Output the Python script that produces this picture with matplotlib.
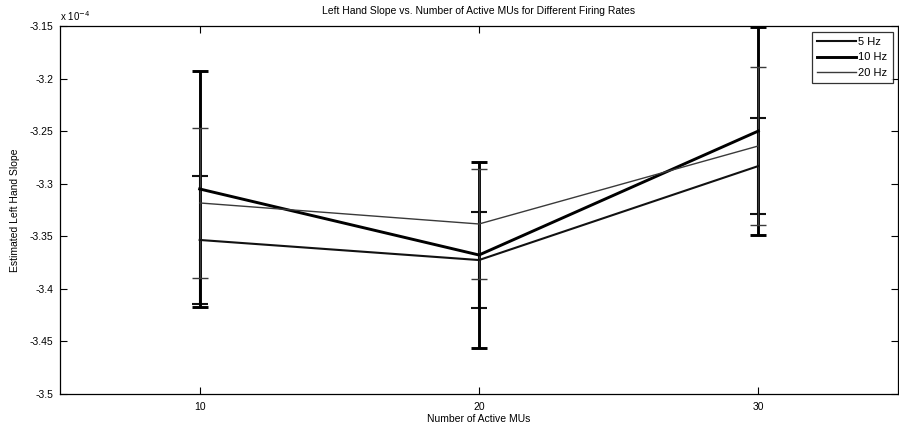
import matplotlib
matplotlib.use("Agg")
import matplotlib.pyplot as plt

plt.rcParams['font.family'] = ['Liberation Sans', 'DejaVu Sans']

# Number of active motor units
active_mus = [10, 20, 30]

# Estimated left hand slope (units of 1e-4) and standard deviations
slope_5hz = [-3.3535, -3.3726, -3.2832]
err_5hz = [0.0609, 0.0457, 0.0457]

slope_10hz = [-3.3050, -3.3678, -3.2499]
err_10hz = [0.1122, 0.0885, 0.0990]

slope_20hz = [-3.3183, -3.3383, -3.2641]
err_20hz = [0.0713, 0.0523, 0.0751]

series_labels = ['5 Hz', '10 Hz', '20 Hz']
y_ticks = [-3.5, -3.45, -3.4, -3.35, -3.3, -3.25, -3.2, -3.15]

fig = plt.figure(figsize=(8.99, 4.28), dpi=100)
ax = fig.add_axes([60 / 899, 34 / 428, 838 / 899, 368 / 428])

styles = [
    dict(color='#111111', lw=1.5),
    dict(color='#000000', lw=2.1),
    dict(color='#3a3a3a', lw=1.0),
]
data = [(slope_5hz, err_5hz), (slope_10hz, err_10hz), (slope_20hz, err_20hz)]

for (vals, errs), st, lab in zip(data, styles, series_labels):
    ax.errorbar(active_mus, vals, yerr=errs, color=st['color'], lw=st['lw'],
                elinewidth=st['lw'], capsize=5.5, capthick=st['lw'], label=lab)

ax.set_xlim(5, 35)
ax.set_ylim(-3.5, -3.15)
ax.set_xticks(active_mus)
ax.set_yticks(y_ticks)
ax.set_yticklabels(['%g' % v for v in y_ticks])
ax.tick_params(direction='in', length=5, width=0.8, labelsize=7.5,
               top=True, right=True)
ax.tick_params(axis='x', pad=6)
ax.tick_params(axis='y', pad=5)

for s in ax.spines.values():
    s.set_linewidth(0.9)

ax.text(0.0, 1.008, r'x 10$^{-4}$', transform=ax.transAxes, fontsize=7,
        ha='left', va='bottom')

ax.set_title('Left Hand Slope vs. Number of Active MUs for Different Firing Rates',
             fontsize=7.5, pad=9)
ax.set_xlabel('Number of Active MUs', fontsize=7.5, labelpad=1)
ax.set_ylabel('Estimated Left Hand Slope', fontsize=7.5, labelpad=7)

handles, labels = ax.get_legend_handles_labels()
handles = [h[0] for h in handles]
leg = ax.legend(handles, labels, loc='upper right', fontsize=8, frameon=True,
                fancybox=False, edgecolor='black', handlelength=3.5,
                borderpad=0.45, labelspacing=0.5, handletextpad=0.25,
                borderaxespad=0.0, bbox_to_anchor=(0.9935, 0.984))
leg.get_frame().set_linewidth(0.9)

fig.savefig('out.png', dpi=100)
